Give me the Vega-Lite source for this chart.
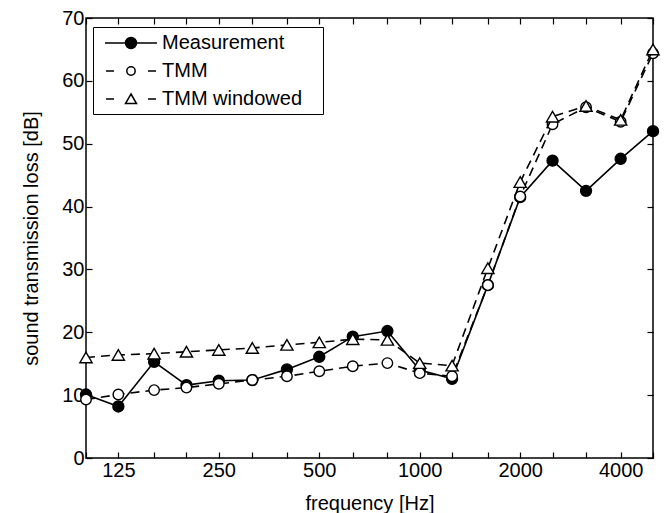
{
  "$schema": "https://vega.github.io/schema/vega-lite/v6.json",
  "width": 567,
  "height": 440,
  "autosize": "none",
  "padding": {"left": 86, "top": 18, "right": 15, "bottom": 55},
  "background": "white",
  "config": {
    "font": "Liberation Sans",
    "view": {"stroke": "black", "strokeWidth": 1.5},
    "axis": {
      "grid": false, "domain": false, "tickColor": "black", "tickWidth": 1.2, "tickSize": -6,
      "labelFont": "Liberation Sans", "labelFontSize": 20, "labelColor": "black",
      "titleFont": "Liberation Sans", "titleFontSize": 20, "titleFontWeight": "normal", "titleColor": "black"
    }
  },
  "data": {"values": [
    {"f": 100, "v": 10.1, "s": "Measurement"},
    {"f": 125, "v": 8.2, "s": "Measurement"},
    {"f": 160, "v": 15.3, "s": "Measurement"},
    {"f": 200, "v": 11.6, "s": "Measurement"},
    {"f": 250, "v": 12.3, "s": "Measurement"},
    {"f": 315, "v": 12.4, "s": "Measurement"},
    {"f": 400, "v": 14.1, "s": "Measurement"},
    {"f": 500, "v": 16.1, "s": "Measurement"},
    {"f": 630, "v": 19.3, "s": "Measurement"},
    {"f": 800, "v": 20.2, "s": "Measurement"},
    {"f": 1000, "v": 14.0, "s": "Measurement"},
    {"f": 1250, "v": 12.6, "s": "Measurement"},
    {"f": 1600, "v": 27.5, "s": "Measurement"},
    {"f": 2000, "v": 41.5, "s": "Measurement"},
    {"f": 2500, "v": 47.3, "s": "Measurement"},
    {"f": 3150, "v": 42.5, "s": "Measurement"},
    {"f": 4000, "v": 47.6, "s": "Measurement"},
    {"f": 5000, "v": 52.0, "s": "Measurement"},
    {"f": 100, "v": 9.3, "s": "TMM"},
    {"f": 125, "v": 10.1, "s": "TMM"},
    {"f": 160, "v": 10.8, "s": "TMM"},
    {"f": 200, "v": 11.2, "s": "TMM"},
    {"f": 250, "v": 11.8, "s": "TMM"},
    {"f": 315, "v": 12.4, "s": "TMM"},
    {"f": 400, "v": 13.0, "s": "TMM"},
    {"f": 500, "v": 13.8, "s": "TMM"},
    {"f": 630, "v": 14.6, "s": "TMM"},
    {"f": 800, "v": 15.1, "s": "TMM"},
    {"f": 1000, "v": 13.5, "s": "TMM"},
    {"f": 1250, "v": 13.0, "s": "TMM"},
    {"f": 1600, "v": 27.5, "s": "TMM"},
    {"f": 2000, "v": 41.6, "s": "TMM"},
    {"f": 2500, "v": 53.1, "s": "TMM"},
    {"f": 3150, "v": 55.8, "s": "TMM"},
    {"f": 4000, "v": 53.5, "s": "TMM"},
    {"f": 5000, "v": 64.4, "s": "TMM"},
    {"f": 100, "v": 16.0, "s": "TMM windowed"},
    {"f": 125, "v": 16.4, "s": "TMM windowed"},
    {"f": 160, "v": 16.6, "s": "TMM windowed"},
    {"f": 200, "v": 16.9, "s": "TMM windowed"},
    {"f": 250, "v": 17.2, "s": "TMM windowed"},
    {"f": 315, "v": 17.5, "s": "TMM windowed"},
    {"f": 400, "v": 18.0, "s": "TMM windowed"},
    {"f": 500, "v": 18.4, "s": "TMM windowed"},
    {"f": 630, "v": 18.9, "s": "TMM windowed"},
    {"f": 800, "v": 18.8, "s": "TMM windowed"},
    {"f": 1000, "v": 15.1, "s": "TMM windowed"},
    {"f": 1250, "v": 14.7, "s": "TMM windowed"},
    {"f": 1600, "v": 30.2, "s": "TMM windowed"},
    {"f": 2000, "v": 43.9, "s": "TMM windowed"},
    {"f": 2500, "v": 54.3, "s": "TMM windowed"},
    {"f": 3150, "v": 56.0, "s": "TMM windowed"},
    {"f": 4000, "v": 53.8, "s": "TMM windowed"},
    {"f": 5000, "v": 65.0, "s": "TMM windowed"}
  ]},
  "layer": [
    {
      "mark": {"type": "point", "filled": true, "strokeWidth": 1.5, "size": 400, "opacity": 0},
      "encoding": {
        "x": {
          "field": "f", "type": "quantitative",
          "scale": {"type": "log", "domain": [100, 5000], "nice": false},
          "axis": {
            "orient": "bottom",
            "values": [100, 125, 160, 200, 250, 315, 400, 500, 630, 800, 1000, 1250, 1600, 2000, 2500, 3150, 4000, 5000],
            "format": "d",
            "labelExpr": "indexof([125,250,500,1000,2000,4000], datum.value) >= 0 ? datum.label : ''",
            "labelOverlap": false, "labelFlush": false,
            "labelPadding": 8, "titlePadding": 13,
            "title": "frequency [Hz]"
          }
        },
        "y": {
          "field": "v", "type": "quantitative",
          "scale": {"domain": [0, 70], "nice": false},
          "axis": {
            "orient": "left",
            "values": [0, 10, 20, 30, 40, 50, 60, 70],
            "labelPadding": 8, "titlePadding": 20,
            "title": "sound transmission loss [dB]"
          }
        },
        "shape": {
          "field": "s", "type": "nominal",
          "scale": {
            "domain": ["Measurement", "TMM", "TMM windowed"],
            "range": [
              "M-2.6,0L2.6,0M0.55,0A0.55,0.55 0 1,1 -0.55,0A0.55,0.55 0 1,1 0.55,0Z",
              "M-2.5,0L-1.7,0M1.7,0L2.5,0M0.42,0A0.42,0.42 0 1,1 -0.42,0A0.42,0.42 0 1,1 0.42,0Z",
              "M-2.5,0L-1.7,0M1.7,0L2.5,0M0,-0.5L0.55,0.45L-0.55,0.45Z"
            ]
          },
          "legend": {
            "title": null, "orient": "none", "legendX": 7, "legendY": 9,
            "strokeColor": "black", "fillColor": "white", "padding": 5, "cornerRadius": 0,
            "symbolSize": 400, "symbolOffset": 22, "labelOffset": 20,
            "symbolOpacity": 1, "symbolStrokeWidth": 1.5,
            "labelFontSize": 20, "labelFont": "Liberation Sans", "labelColor": "black",
            "labelLimit": 400,
            "rowPadding": 7,
            "labelExpr": "datum.label + '\u2800'"
          }
        },
        "fill": {
          "field": "s", "type": "nominal",
          "scale": {"domain": ["Measurement", "TMM", "TMM windowed"], "range": ["black", "white", "white"]},
          "legend": null
        },
        "stroke": {
          "field": "s", "type": "nominal",
          "scale": {"domain": ["Measurement", "TMM", "TMM windowed"], "range": ["black", "black", "black"]},
          "legend": null
        }
      }
    },
    {
      "transform": [{"filter": "datum.s === 'Measurement'"}],
      "mark": {"type": "line", "color": "black", "strokeWidth": 1.6},
      "encoding": {
        "x": {"field": "f", "type": "quantitative", "axis": null},
        "y": {"field": "v", "type": "quantitative", "axis": null}
      }
    },
    {
      "transform": [{"filter": "datum.s === 'Measurement'"}],
      "mark": {"type": "point", "shape": "circle", "filled": true, "fill": "black", "stroke": "black", "strokeWidth": 1.4, "size": 120, "opacity": 1},
      "encoding": {
        "x": {"field": "f", "type": "quantitative", "axis": null},
        "y": {"field": "v", "type": "quantitative", "axis": null}
      }
    },
    {
      "transform": [{"filter": "datum.s === 'TMM'"}],
      "mark": {"type": "line", "color": "black", "strokeWidth": 1.6, "strokeDash": [9, 6]},
      "encoding": {
        "x": {"field": "f", "type": "quantitative", "axis": null},
        "y": {"field": "v", "type": "quantitative", "axis": null}
      }
    },
    {
      "transform": [{"filter": "datum.s === 'TMM'"}],
      "mark": {"type": "point", "shape": "circle", "filled": true, "fill": "white", "stroke": "black", "strokeWidth": 1.4, "size": 110, "opacity": 1},
      "encoding": {
        "x": {"field": "f", "type": "quantitative", "axis": null},
        "y": {"field": "v", "type": "quantitative", "axis": null}
      }
    },
    {
      "transform": [{"filter": "datum.s === 'TMM windowed'"}],
      "mark": {"type": "line", "color": "black", "strokeWidth": 1.6, "strokeDash": [9, 6]},
      "encoding": {
        "x": {"field": "f", "type": "quantitative", "axis": null},
        "y": {"field": "v", "type": "quantitative", "axis": null}
      }
    },
    {
      "transform": [{"filter": "datum.s === 'TMM windowed'"}],
      "mark": {"type": "point", "shape": "triangle-up", "filled": true, "fill": "white", "stroke": "black", "strokeWidth": 1.4, "size": 150, "opacity": 1},
      "encoding": {
        "x": {
          "field": "f", "type": "quantitative",
          "axis": {"orient": "top", "values": [100, 125, 160, 200, 250, 315, 400, 500, 630, 800, 1000, 1250, 1600, 2000, 2500, 3150, 4000, 5000], "labels": false, "title": null}
        },
        "y": {
          "field": "v", "type": "quantitative",
          "axis": {"orient": "right", "values": [0, 10, 20, 30, 40, 50, 60, 70], "labels": false, "title": null}
        }
      }
    }
  ],
  "resolve": {"axis": {"x": "independent", "y": "independent"}}
}
